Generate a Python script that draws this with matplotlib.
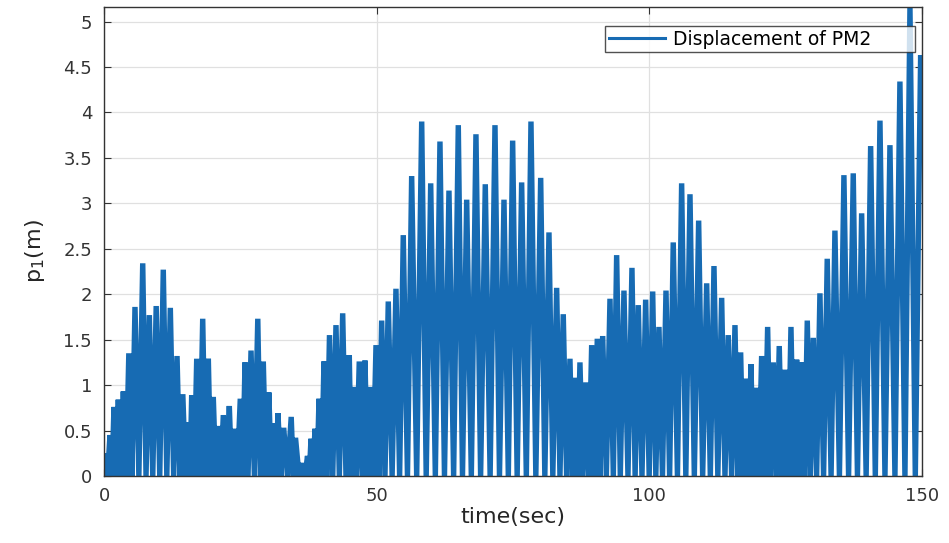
import numpy as np
import matplotlib
matplotlib.use("Agg")
import matplotlib.pyplot as plt

# spike peaks (time in sec, displacement in m)
peak_t = [0.18, 1.10, 1.83, 2.62, 3.54, 4.55, 5.68, 7.10, 8.31, 9.57,
          10.87, 12.16, 13.39, 14.45, 15.46, 16.08, 17.00, 18.10, 19.13, 20.04,
          20.96, 21.88, 22.98, 23.84, 24.99, 25.86, 26.96, 28.20, 29.21, 30.22,
          31.17, 31.90, 32.95, 34.33, 35.12, 36.40, 37.32, 37.96, 38.69, 39.43,
          40.34, 41.35, 42.54, 43.77, 44.98, 45.71, 46.81, 47.86, 48.78, 49.88,
          50.92, 52.13, 53.54, 54.88, 56.42, 58.26, 59.91, 61.61, 63.26, 64.97,
          66.51, 68.21, 69.92, 71.70, 73.35, 74.94, 76.59, 78.30, 80.08, 81.60,
          83.01, 84.22, 85.45, 86.37, 87.28, 88.38, 89.43, 90.46, 91.45, 92.79,
          94.01, 95.35, 96.82, 97.98, 99.33, 100.62, 101.77, 103.06, 104.39, 105.93,
          107.46, 109.05, 110.52, 111.86, 113.27, 114.48, 115.71, 116.75, 117.72, 118.64,
          119.56, 120.60, 121.70, 122.73, 123.83, 124.88, 125.98, 127.02, 127.94, 128.97,
          130.07, 131.29, 132.63, 134.04, 135.69, 137.40, 138.94, 140.59, 142.30, 144.13,
          145.96, 147.80, 149.76]
peak_p = [0.25, 0.45, 0.76, 0.84, 0.93, 1.35, 1.86, 2.34, 1.77, 1.87,
          2.27, 1.85, 1.32, 0.90, 0.59, 0.89, 1.29, 1.73, 1.29, 0.87,
          0.55, 0.67, 0.77, 0.52, 0.85, 1.25, 1.38, 1.73, 1.26, 0.92,
          0.58, 0.69, 0.53, 0.65, 0.42, 0.14, 0.22, 0.41, 0.52, 0.85,
          1.26, 1.55, 1.66, 1.79, 1.33, 0.98, 1.26, 1.27, 0.98, 1.44,
          1.71, 1.92, 2.06, 2.65, 3.30, 3.90, 3.22, 3.68, 3.14, 3.86,
          3.04, 3.76, 3.21, 3.86, 3.04, 3.69, 3.23, 3.90, 3.28, 2.68,
          2.07, 1.78, 1.29, 1.08, 1.25, 1.03, 1.44, 1.51, 1.54, 1.95,
          2.43, 2.04, 2.29, 1.88, 1.94, 2.03, 1.64, 2.04, 2.57, 3.22,
          3.10, 2.81, 2.12, 2.31, 1.96, 1.55, 1.66, 1.36, 1.07, 1.23,
          0.97, 1.32, 1.64, 1.25, 1.43, 1.17, 1.64, 1.28, 1.25, 1.71,
          1.52, 2.01, 2.39, 2.70, 3.31, 3.33, 2.89, 3.63, 3.91, 3.64,
          4.34, 5.16, 4.63]
trough_p = 0.0
end_t, end_p = 150.0, 3.93

# zigzag: trough between every pair of spikes
t = [0.0]
p = [0.0]
prev = 0.0
for ti, pi in zip(peak_t, peak_p):
    t.append((prev + ti) / 2)
    p.append(trough_p)
    t.append(ti)
    p.append(pi)
    prev = ti
t.append(end_t)
p.append(end_p)

plt.rcParams['font.family'] = ['DejaVu Sans']
plt.rcParams['mathtext.default'] = 'regular'

fig = plt.figure(figsize=(9.49, 5.43), dpi=100)
ax = fig.add_axes([0.1096, 0.1234, 0.8619, 0.8637])

line, = ax.plot(t, p, color='#176bb3', lw=3.9, solid_joinstyle='bevel',
                label='Displacement of PM2')

ax.set_xlim(0, 150)
ax.set_ylim(0, 5.16)
ax.set_xticks([0, 50, 100, 150])
ax.set_yticks(np.arange(0, 5.01, 0.5))
ax.set_yticklabels(['0', '0.5', '1', '1.5', '2', '2.5', '3', '3.5', '4', '4.5', '5'])
ax.grid(True, color='#e0e0e0', lw=0.9)
ax.set_axisbelow(True)
ax.tick_params(direction='in', top=True, right=True, labelsize=13,
               length=5, color='#333333', labelcolor='#333333')
ax.tick_params(axis='y', pad=8.6)
ax.tick_params(axis='x', pad=8)
for s in ax.spines.values():
    s.set_color('#333333')
    s.set_linewidth(1.0)

ax.set_xlabel('time(sec)', fontsize=16, color='#262626')
ax.xaxis.set_label_coords(0.5, -0.066)
ax.set_ylabel('p$_1$(m)', fontsize=16, color='#262626')
ax.yaxis.set_label_coords(-0.07, 0.48)

leg = ax.legend(loc='upper left', bbox_to_anchor=(0.6125, 0.9062, 0.3789, 0.0533),
                mode='expand', fontsize=13.5, frameon=True, fancybox=False,
                edgecolor='#262626', borderpad=0.2, handlelength=3.0,
                handletextpad=0.4, borderaxespad=0)
leg.get_frame().set_linewidth(1.0)
leg.get_lines()[0].set_linewidth(2.2)

fig.savefig('out.png', dpi=100)
